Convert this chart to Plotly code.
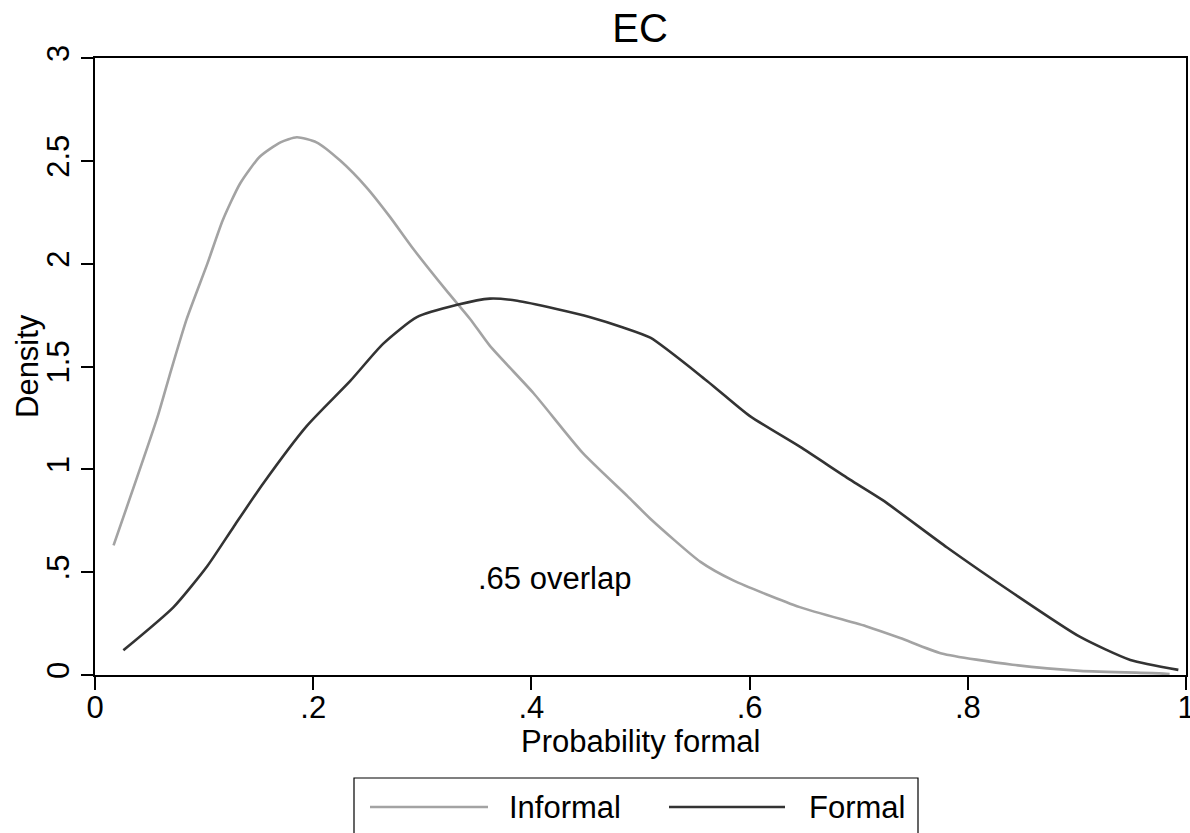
import plotly.graph_objects as go

# ---- data ----
informal_x = [0.017, 0.057, 0.068, 0.084, 0.103, 0.117, 0.133, 0.151, 0.170, 0.185, 0.203, 0.225,
              0.249, 0.270, 0.292, 0.322, 0.344, 0.362, 0.402, 0.447, 0.488, 0.509, 0.555,
              0.585, 0.646, 0.708, 0.738, 0.776, 0.841, 0.903, 0.976, 0.985]
informal_y = [0.63, 1.25, 1.45, 1.73, 2.00, 2.21, 2.39, 2.52, 2.59, 2.615, 2.59, 2.50,
              2.37, 2.23, 2.07, 1.87, 1.73, 1.60, 1.37, 1.08, 0.87, 0.76, 0.55,
              0.46, 0.33, 0.235, 0.18, 0.105, 0.05, 0.02, 0.008, 0.005]

formal_x = [0.026, 0.072, 0.103, 0.127, 0.154, 0.194, 0.234, 0.264, 0.295, 0.332, 0.362, 0.387,
            0.423, 0.454, 0.484, 0.509, 0.561, 0.600, 0.646, 0.692, 0.722, 0.781, 0.841,
            0.903, 0.949, 0.993]
formal_y = [0.12, 0.33, 0.53, 0.72, 0.93, 1.21, 1.43, 1.61, 1.74, 1.80, 1.83, 1.82,
            1.78, 1.74, 1.69, 1.64, 1.43, 1.26, 1.11, 0.95, 0.85, 0.62, 0.40,
            0.185, 0.073, 0.025]

x_tick_vals = [0, 0.2, 0.4, 0.6, 0.8, 1]
x_tick_text = ["0", ".2", ".4", ".6", ".8", "1"]
y_tick_vals = [0, 0.5, 1, 1.5, 2, 2.5, 3]
y_tick_text = ["0", ".5", "1", "1.5", "2", "2.5", "3"]

series_names = ["Informal", "Formal"]
series_colors = ["#a3a3a3", "#333333"]
title_text = "EC"
x_title = "Probability formal"
y_title = "Density"
overlap_text = ".65 overlap"
overlap_pos = (0.4216, 0.47)

# ---- layout constants (pixels) ----
W, H = 1190, 833
L, R, T, B = 95, 4, 58, 158
PW = W - L - R
PH = H - T - B
FONT = "Liberation Sans, Arial, Helvetica, sans-serif"
FS = 31


def px_x(px):
    return (px - L) / PW


def px_y(py):
    return (H - B - py) / PH


fig = go.Figure()
fig.add_trace(go.Scatter(x=informal_x, y=informal_y, mode="lines", name=series_names[0],
                         line=dict(color=series_colors[0], width=2.6, shape="spline", smoothing=0.6),
                         showlegend=False))
fig.add_trace(go.Scatter(x=formal_x, y=formal_y, mode="lines", name=series_names[1],
                         line=dict(color=series_colors[1], width=2.6, shape="spline", smoothing=0.6),
                         showlegend=False))

fig.add_annotation(x=overlap_pos[0], y=overlap_pos[1], xref="x", yref="y", text=overlap_text,
                   showarrow=False, font=dict(family=FONT, size=FS, color="black"),
                   xanchor="center", yanchor="middle")

# axis titles
fig.add_annotation(x=px_x(640), y=px_y(742), xref="paper", yref="paper", text=x_title,
                   showarrow=False, xanchor="center", yanchor="middle",
                   font=dict(family=FONT, size=FS, color="black"))
fig.add_annotation(x=px_x(27), y=px_y(366), xref="paper", yref="paper", text=y_title,
                   showarrow=False, xanchor="center", yanchor="middle", textangle=-90,
                   font=dict(family=FONT, size=FS, color="black"))

# custom legend (Stata style: long line samples, boxed, below the plot)
LEG_Y = 807
shapes = [
    dict(type="rect", xref="paper", yref="paper", x0=px_x(354), x1=px_x(918),
         y0=px_y(778), y1=px_y(860), line=dict(color="black", width=1.2), fillcolor="rgba(0,0,0,0)"),
    dict(type="line", xref="paper", yref="paper", x0=px_x(370), x1=px_x(488),
         y0=px_y(LEG_Y), y1=px_y(LEG_Y), line=dict(color=series_colors[0], width=2.6)),
    dict(type="line", xref="paper", yref="paper", x0=px_x(669), x1=px_x(785),
         y0=px_y(LEG_Y), y1=px_y(LEG_Y), line=dict(color=series_colors[1], width=2.6)),
]
for name, left in zip(series_names, [507, 807]):
    fig.add_annotation(x=px_x(left), y=px_y(LEG_Y), xref="paper", yref="paper", text=name,
                       showarrow=False, xanchor="left", yanchor="middle",
                       font=dict(family=FONT, size=FS, color="black"))

fig.update_layout(
    width=W, height=H,
    margin=dict(l=L, r=R, t=T, b=B, autoexpand=False),
    paper_bgcolor="white", plot_bgcolor="white",
    font=dict(family=FONT, size=FS, color="black"),
    title=dict(text=title_text, x=640 / W, xanchor="center", y=1 - 28 / H, yanchor="middle",
               font=dict(family=FONT, size=40, color="black")),
    shapes=shapes,
    showlegend=False,
)
fig.update_xaxes(range=[0, 1], tickvals=x_tick_vals, ticktext=x_tick_text,
                 showgrid=False, zeroline=False, showline=True, linecolor="black", linewidth=1.6,
                 mirror=True, ticks="outside", ticklen=13, tickwidth=1.6, tickcolor="black",
                 tickfont=dict(family=FONT, size=FS), automargin=False,
                 ticklabeloverflow="allow", ticklabelstandoff=-9)
fig.update_yaxes(range=[0, 3], tickvals=y_tick_vals, ticktext=y_tick_text, tickangle=-90,
                 showgrid=False, zeroline=False, showline=True, linecolor="black", linewidth=1.6,
                 mirror=True, ticks="outside", ticklen=12, tickwidth=1.6, tickcolor="black",
                 tickfont=dict(family=FONT, size=FS), automargin=False,
                 ticklabeloverflow="allow")

fig.write_html("out.html")
